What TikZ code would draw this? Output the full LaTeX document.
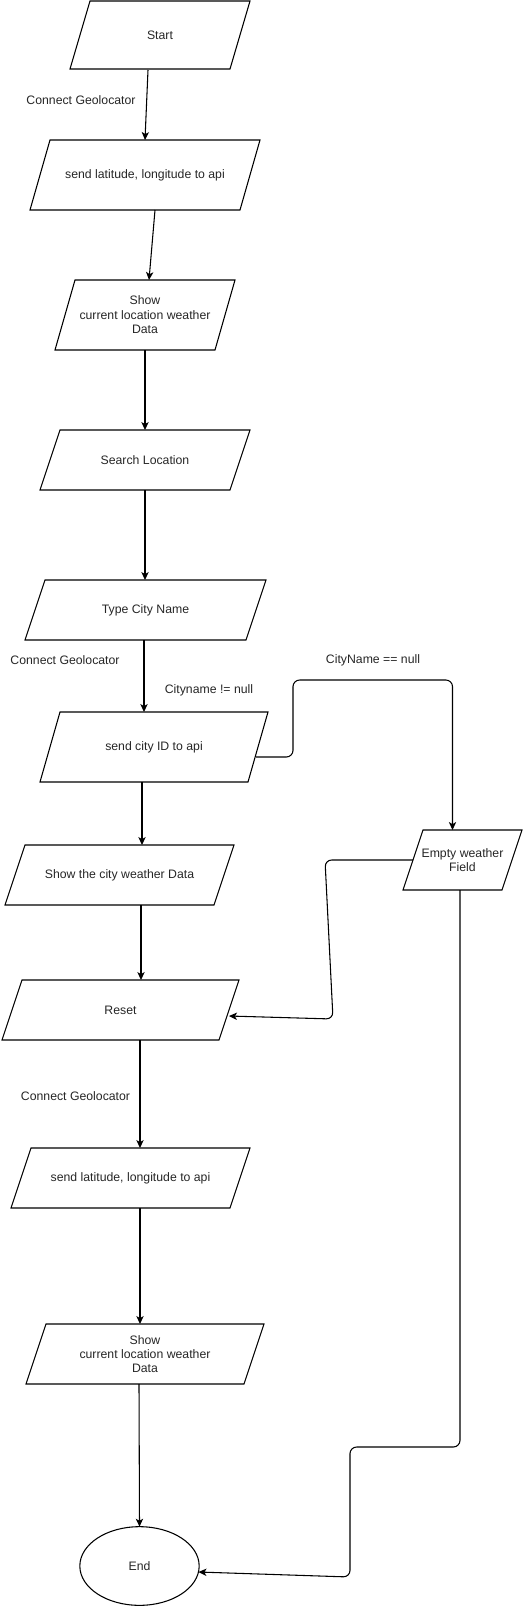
\documentclass[tikz,border=0pt]{standalone}
\usepackage{fontspec}
\setmainfont{Liberation Sans}
\usetikzlibrary{arrows.meta,calc,fit,shapes.geometric}
\tikzset{
  shp/.style={draw=black, line width=0.8pt, line join=miter},
  txt/.style={align=center, inner sep=0pt, font=\fontsize{9.2}{10.8}\selectfont, text=black!85},
  arr/.style={draw=black, line width=0.8pt, -{Stealth[length=6pt,width=5.5pt,inset=1.6pt]}},
}
\newcommand{\pgm}[6]{%
  \draw[shp] (#2,#5) -- ({#2+20},#4) -- (#3,#4) -- ({#3-20},#5) -- cycle;
  \node[fit={(#2,#4)(#3,#5)}, inner sep=0pt, outer sep=0pt] (#1) {};
  \node[txt] (#1t) at (#1.center) {#6};
}
\begin{document}
\begin{tikzpicture}[x=0.75pt,y=-0.75pt]
\useasboundingbox (0,0) rectangle (526,1607);
\pgm{start}{70}{250}{1}{69}{Start}
\pgm{lat1}{30}{260}{140}{210}{send latitude, longitude to api}
\pgm{show1}{55}{235}{280}{350}{Show\\current location weather\\Data}
\pgm{search}{40}{250}{430}{490}{Search Location}
\pgm{city}{25}{266}{580}{640}{Type City Name}
\pgm{cid}{40}{268}{712}{782}{send city ID to api}
\pgm{empty}{403}{522}{830}{890}{Empty weather\\Field}
\pgm{showcity}{5}{234}{845}{905}{Show the city weather Data}
\pgm{reset}{2}{239}{980}{1040}{Reset}
\pgm{lat2}{11}{250}{1148}{1208}{send latitude, longitude to api}
\pgm{show2}{26}{264}{1324}{1384}{Show\\current location weather\\Data}
\node[ellipse, draw=black, line width=0.8pt, minimum width=89.5pt, minimum height=59pt, inner sep=0pt, outer sep=0pt] (end) at (139.5,1566) {};
\node[txt] (endt) at (end.center) {End};

\node[txt] (lbl1) at (81,100) {Connect Geolocator};
\node[txt] (lbl2) at (65,660) {Connect Geolocator};
\node[txt] (lbl3) at (209,690) {Cityname != null};
\node[txt] (lbl4) at (373,660) {CityName == null};
\node[txt] (lbl5) at (75.5,1096) {Connect Geolocator};

\coordinate (c1) at (293,680);
\coordinate (c2) at (325,860);
\coordinate (c3) at (333,1019);
\coordinate (c4) at (350,1447);
\coordinate (c5) at (350,1577);

\draw[arr] ($(start.south)+(-12,1)$) -- (lat1.north);
\draw[arr] ($(lat1.south)+(10,0)$) -- ($(show1.north)+(4,0)$);
\draw[arr] (show1.south) -- (search.north);
\draw[arr] (search.south) -- ($(city.north)+(-0.5,0)$);
\draw[arr] ($(city.south)+(-1.5,0)$) -- ($(cid.north)+(-10,0)$);
\draw[arr, rounded corners=5] ($(cid.east)+(-12,10)$) -| (c1) -| ($(empty.north)+(-10,0)$);
\draw[arr] ($(cid.south)+(-12,0)$) -- ($(showcity.north)+(22.5,0)$);
\draw[arr] ($(showcity.south)+(21.5,0)$) -- ($(reset.north)+(20.5,0)$);
\draw[arr, rounded corners=5] ($(empty.west)+(10,0)$) -- (c2) -- (c3) -- ($(reset.east)+(-10,6)$);
\draw[arr] ($(reset.south)+(19.5,0)$) -- ($(lat2.north)+(9.5,0)$);
\draw[arr] ($(lat2.south)+(9.5,0)$) -- ($(show2.north)+(-5,0)$);
\draw[arr] ($(show2.south)+(-6,0)$) -- (end.north);
\draw[arr, rounded corners=5] ($(empty.south)+(-2.5,0)$) |- (c4) -- (c5) -- ($(end.east)+(-0.7,6)$);
\end{tikzpicture}
\end{document}
